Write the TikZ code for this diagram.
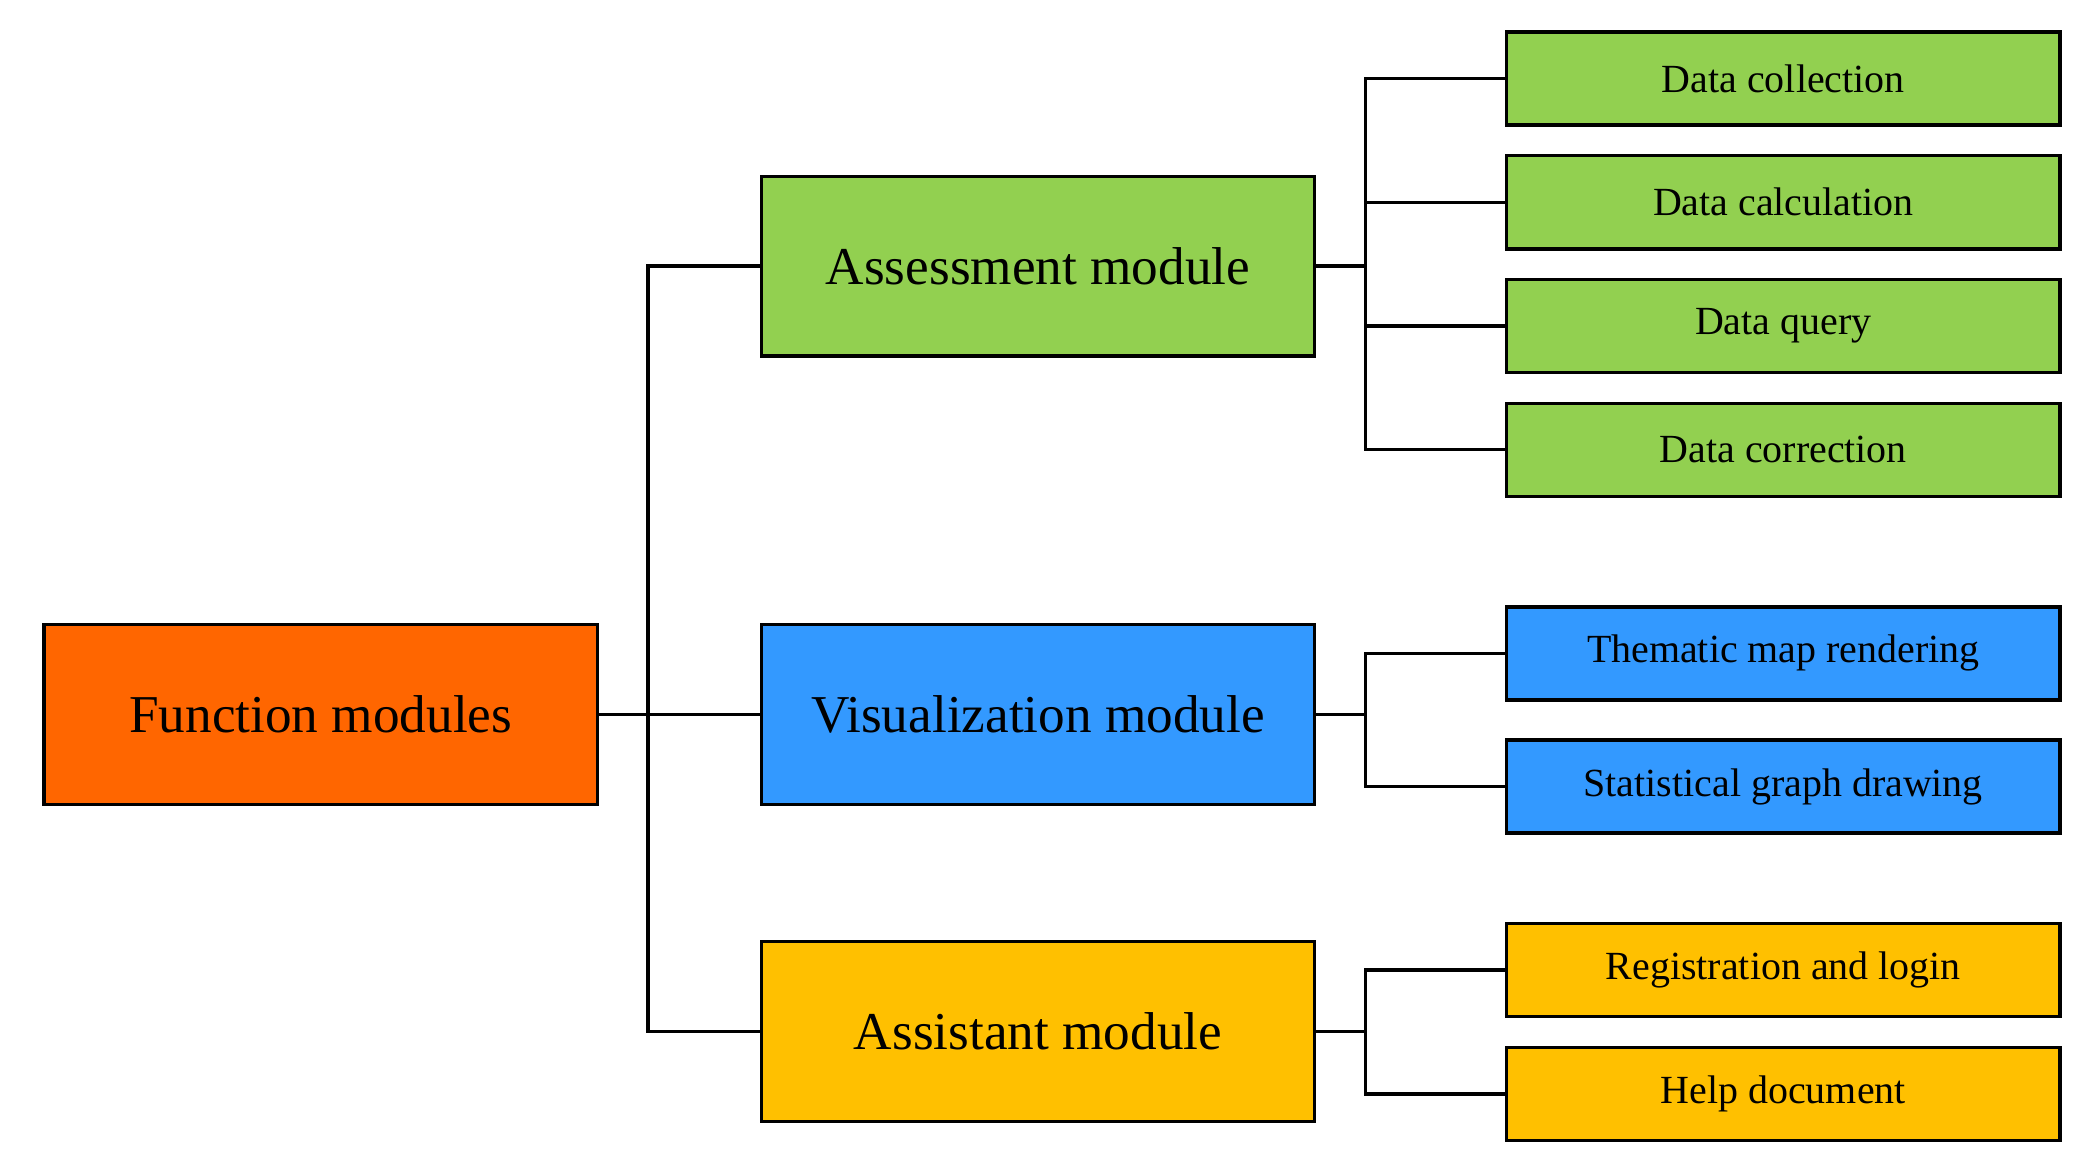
\documentclass[tikz,border=0pt]{standalone}
\usepackage{fontspec}
\setmainfont{Liberation Serif}
\definecolor{cg}{HTML}{92D050}
\definecolor{cb}{HTML}{3399FF}
\definecolor{co}{HTML}{FF6600}
\definecolor{cy}{HTML}{FFC000}
\begin{document}
\begin{tikzpicture}[x=1pt,y=-1pt,
 big/.style={draw=black,line width=2.5pt,minimum width=416pt,minimum height=135pt,font=\fontsize{40}{44}\selectfont,inner sep=0pt},
 leaf/.style={draw=black,line width=2.5pt,minimum width=416pt,minimum height=70pt,font=\fontsize{30}{34}\selectfont,inner sep=0pt},
 ln/.style={line width=2.5pt}]
\useasboundingbox (0,0) rectangle (1560,876);
\node[big,fill=co] (f) at (241,537) {Function modules};
\node[big,fill=cg] (a) at (780,200) {Assessment module};
\node[big,fill=cb] (v) at (780,537) {Visualization module};
\node[big,fill=cy] (s) at (780,775) {Assistant module};
\node[leaf,fill=cg] (a1) at (1340,59) {Data collection};
\node[leaf,fill=cg] (a2) at (1340,152) {Data calculation};
\node[leaf,fill=cg] (a3) at (1340,245) {Data query};
\node[leaf,fill=cg] (a4) at (1340,338) {Data correction};
\node[leaf,fill=cb] (v1) at (1340,491) {Thematic map rendering};
\node[leaf,fill=cb] (v2) at (1340,591) {Statistical graph drawing};
\node[leaf,fill=cy] (s1) at (1340,729) {Registration and login};
\node[leaf,fill=cy] (s2) at (1340,822) {Help document};
\coordinate (b) at (487,0);
\coordinate (c) at (1026,0);
\draw[ln] (f.east) -- (v.west);
\draw[ln] (a.west) -- (a.west -| b) -- (s.west -| b) -- (s.west);
\foreach \p/\k in {a/a1,a/a2,a/a3,a/a4,v/v1,v/v2,s/s1,s/s2}{
 \draw[ln] (\p.east) -- (\p.east -| c) |- (\k.west);}
\end{tikzpicture}
\end{document}
